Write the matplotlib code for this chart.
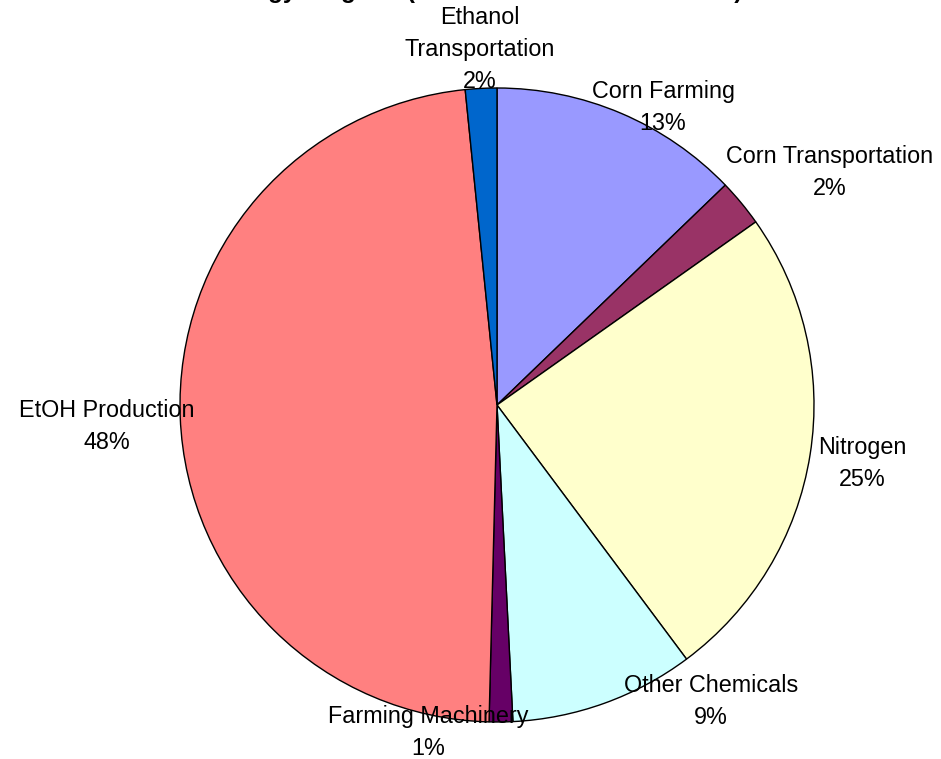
import numpy as np
import matplotlib
matplotlib.use('Agg')
import matplotlib.pyplot as plt

plt.rcParams['font.family'] = ['Liberation Sans', 'DejaVu Sans']

## Energy inputs by stage (share of total, %)
stages = ['Corn Farming', 'Corn Transportation', 'Nitrogen', 'Other Chemicals',
          'Farming Machinery', 'EtOH Production', 'Ethanol\nTransportation']
shares = [12.8, 2.4, 24.6, 9.4, 1.2, 48.0, 1.6]
colors = ['#9999FF', '#993366', '#FFFFCC', '#CCFFFF', '#660066', '#FF8080', '#0066CC']

## Label anchor points in pie units (radius = 1)
label_xy = [(0.524, 0.940), (1.050, 0.735), (1.151, -0.183), (0.675, -0.934),
            (-0.218, -1.034), (-1.230, -0.069), (-0.054, 1.12)]

fig = plt.figure(figsize=(9.41, 7.59), dpi=100)
ax = fig.add_axes([0, 0, 1, 1])

ax.pie(shares, colors=colors, startangle=90, counterclock=False, radius=1,
       wedgeprops=dict(edgecolor='black', linewidth=1))

for name, val, (x, y) in zip(stages, shares, label_xy):
    ax.text(x, y, f'{name}\n{val:.0f}%', ha='center', va='center',
            fontsize=16.8, linespacing=1.5)

ax.text(-0.06, 1.285, 'Energy Diagram (Without Co-Product Credits)', ha='center',
        va='baseline', fontsize=17.5, fontweight='bold')

ax.set_xlim(-497 / 317, (941 - 497) / 317)
ax.set_ylim(-(759 - 405) / 317, 405 / 317)
ax.set_aspect('auto')
ax.axis('off')

plt.savefig('out.png', dpi=100)
